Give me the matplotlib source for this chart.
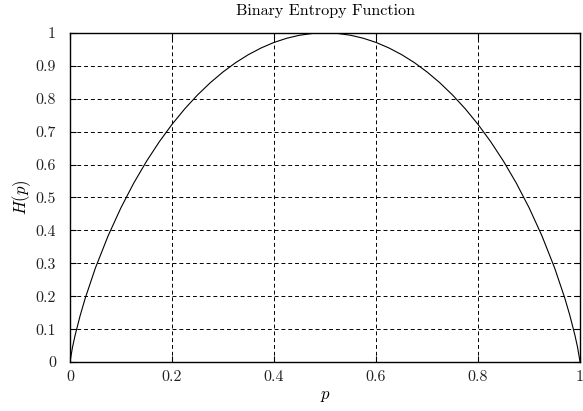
import matplotlib
matplotlib.use("Agg")
import matplotlib.pyplot as plt

# values
p_vals = [0.0, 0.005, 0.01, 0.02, 0.03, 0.05, 0.075, 0.1, 0.125, 0.15, 0.175, 0.2,
          0.225, 0.25, 0.275, 0.3, 0.325, 0.35, 0.375, 0.4, 0.425, 0.45, 0.475, 0.5,
          0.525, 0.55, 0.575, 0.6, 0.625, 0.65, 0.675, 0.7, 0.725, 0.75, 0.775, 0.8,
          0.825, 0.85, 0.875, 0.9, 0.925, 0.95, 0.97, 0.98, 0.99, 0.995, 1.0]
h_vals = [0.0, 0.0454, 0.0808, 0.1414, 0.1944, 0.2864, 0.3843, 0.4690, 0.5436, 0.6098, 0.6690, 0.7219,
          0.7692, 0.8113, 0.8485, 0.8813, 0.9098, 0.9341, 0.9544, 0.9710, 0.9837, 0.9928, 0.9982, 1.0,
          0.9982, 0.9928, 0.9837, 0.9710, 0.9544, 0.9341, 0.9098, 0.8813, 0.8485, 0.8113, 0.7692, 0.7219,
          0.6690, 0.6098, 0.5436, 0.4690, 0.3843, 0.2864, 0.1944, 0.1414, 0.0808, 0.0454, 0.0]

x_ticks = [0, 0.2, 0.4, 0.6, 0.8, 1]
x_labels = ["0", "0.2", "0.4", "0.6", "0.8", "1"]
y_ticks = [0, 0.1, 0.2, 0.3, 0.4, 0.5, 0.6, 0.7, 0.8, 0.9, 1]
y_labels = ["0", "0.1", "0.2", "0.3", "0.4", "0.5", "0.6", "0.7", "0.8", "0.9", "1"]

plt.rcParams["font.family"] = "cmr10"
plt.rcParams["mathtext.fontset"] = "cm"
plt.rcParams["axes.formatter.use_mathtext"] = True

fig = plt.figure(figsize=(5.83, 4.11), dpi=100)
ax = fig.add_axes([0.12, 0.119, 0.875, 0.801])

ax.plot(p_vals, h_vals, color="black", linewidth=0.8)

ax.set_xlim(0, 1)
ax.set_ylim(0, 1)
ax.set_xticks(x_ticks)
ax.set_xticklabels(x_labels)
ax.set_yticks(y_ticks)
ax.set_yticklabels(y_labels)
ax.tick_params(axis="both", direction="in", top=True, right=True, length=4, width=0.8,
               labelsize=11.5, labelcolor="#222222")
ax.tick_params(axis="y", pad=10)
ax.tick_params(axis="x", pad=6)
ax.grid(True, color="black", linestyle=(0, (4, 3)), linewidth=0.7)

for s in ax.spines.values():
    s.set_linewidth(1.0)

ax.set_title("Binary Entropy Function", fontsize=11.6, pad=13)
ax.set_xlabel("$p$", fontsize=12, labelpad=3)
ax.set_ylabel("$H(p)$", fontsize=12, labelpad=2)

fig.savefig("out.png", dpi=100)
